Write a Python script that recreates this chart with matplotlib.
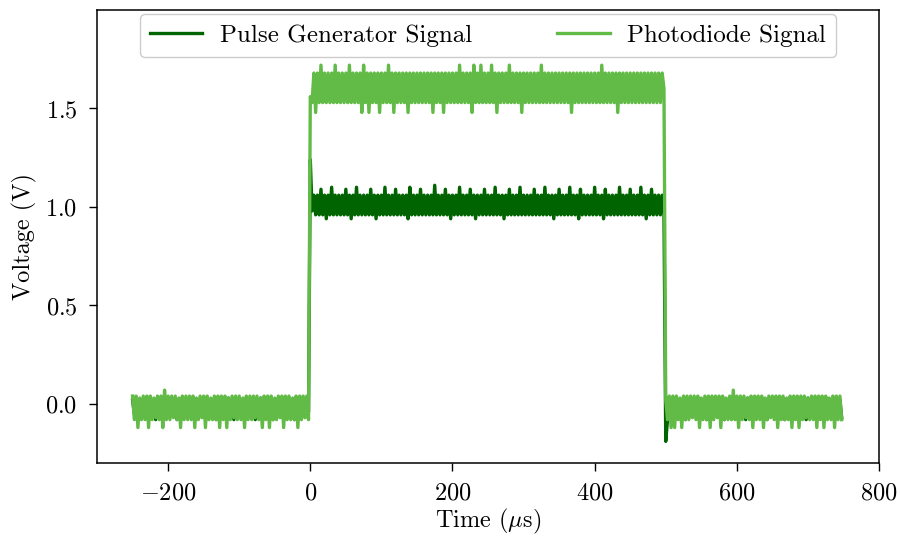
import numpy as np
import matplotlib
matplotlib.use("Agg")
import matplotlib.pyplot as plt

plt.rcParams['font.family'] = ['cmr10', 'STIXGeneral', 'DejaVu Serif']
plt.rcParams['mathtext.fontset'] = 'cm'
plt.rcParams['axes.formatter.use_mathtext'] = True
plt.rcParams['font.size'] = 17.5

# scope samples, 2.5 us apart: "a" samples on the 5 us grid, "b" samples halfway between
t_pre = np.arange(-250, 0, 5)
t_on = np.arange(0, 500, 5)
t_post = np.arange(500, 750, 5)

# pulse generator (V)
pg_pre_a = [0.02, 0.03, 0.02, 0.02, 0.03, 0.02, 0.02, 0.03, 0.02, 0.02,
            0.03, 0.02, 0.02, 0.02, 0.03, 0.02, 0.03, 0.02, 0.02, 0.02,
            0.02, 0.03, 0.02, 0.02, 0.03, 0.02, 0.02, 0.03, 0.02, 0.02,
            0.03, 0.02, 0.02, 0.02, 0.03, 0.02, 0.03, 0.02, 0.02, 0.02,
            0.02, 0.03, 0.02, 0.02, 0.03, 0.02, 0.02, 0.03, 0.02, 0.02]
pg_pre_b = [-0.05, -0.08, -0.05, -0.05, -0.06, -0.05, -0.08, -0.05, -0.05, -0.06,
            -0.05, -0.05, -0.08, -0.05, -0.06, -0.05, -0.05, -0.08, -0.05, -0.05,
            -0.06, -0.05, -0.05, -0.08, -0.05, -0.05, -0.06, -0.05, -0.08, -0.05,
            -0.05, -0.06, -0.05, -0.05, -0.08, -0.05, -0.05, -0.06, -0.05, -0.08,
            -0.05, -0.05, -0.06, -0.05, -0.05, -0.08, -0.05, -0.06, -0.05, -0.04]
pg_on_a = [1.24, 1.06, 1.06, 1.09, 1.06, 1.06, 1.10, 1.06, 1.06, 1.06,
           1.09, 1.06, 1.06, 1.10, 1.06, 1.06, 1.06, 1.09, 1.06, 1.06,
           1.06, 1.10, 1.06, 1.06, 1.09, 1.06, 1.06, 1.06, 1.10, 1.06,
           1.06, 1.09, 1.06, 1.06, 1.06, 1.11, 1.06, 1.06, 1.09, 1.06,
           1.06, 1.06, 1.10, 1.06, 1.06, 1.09, 1.06, 1.06, 1.06, 1.09,
           1.06, 1.06, 1.10, 1.06, 1.06, 1.06, 1.09, 1.06, 1.06, 1.10,
           1.06, 1.06, 1.06, 1.09, 1.06, 1.06, 1.10, 1.06, 1.06, 1.06,
           1.09, 1.06, 1.06, 1.10, 1.06, 1.06, 1.09, 1.06, 1.06, 1.06,
           1.10, 1.06, 1.06, 1.09, 1.06, 1.06, 1.06, 1.10, 1.06, 1.06,
           1.09, 1.06, 1.06, 1.10, 1.06, 1.06, 1.09, 1.06, 1.06, 1.06]
pg_on_b = [0.98, 0.96, 0.96, 0.96, 0.94, 0.96, 0.96, 0.96, 0.96, 0.96,
           0.96, 0.94, 0.96, 0.96, 0.96, 0.96, 0.96, 0.96, 0.94, 0.96,
           0.96, 0.96, 0.96, 0.96, 0.96, 0.96, 0.96, 0.94, 0.96, 0.96,
           0.96, 0.96, 0.96, 0.96, 0.96, 0.96, 0.96, 0.96, 0.96, 0.94,
           0.96, 0.96, 0.96, 0.96, 0.96, 0.96, 0.94, 0.96, 0.96, 0.96,
           0.96, 0.96, 0.96, 0.96, 0.94, 0.96, 0.96, 0.96, 0.96, 0.96,
           0.96, 0.96, 0.96, 0.96, 0.96, 0.96, 0.96, 0.96, 0.94, 0.96,
           0.96, 0.96, 0.96, 0.96, 0.96, 0.94, 0.96, 0.96, 0.96, 0.96,
           0.96, 0.96, 0.94, 0.96, 0.96, 0.96, 0.96, 0.96, 0.96, 0.96,
           0.96, 0.96, 0.96, 0.96, 0.94, 0.96, 0.96, 0.96, 0.96, 0.97]
pg_post_a = [-0.19, 0.02, 0.03, 0.02, 0.02, 0.03, 0.02, 0.02, 0.02, 0.03,
             0.02, 0.02, 0.03, 0.02, 0.02, 0.02, 0.03, 0.02, 0.02, 0.03,
             0.02, 0.02, 0.02, 0.03, 0.02, 0.02, 0.03, 0.02, 0.02, 0.02,
             0.03, 0.02, 0.02, 0.03, 0.02, 0.02, 0.02, 0.03, 0.02, 0.02,
             0.03, 0.02, 0.02, 0.02, 0.03, 0.02, 0.02, 0.03, 0.02, 0.02]
pg_post_b = [-0.08, -0.05, -0.05, -0.06, -0.05, -0.08, -0.05, -0.05, -0.06, -0.05,
             -0.05, -0.08, -0.05, -0.05, -0.06, -0.05, -0.08, -0.05, -0.05, -0.05,
             -0.06, -0.05, -0.08, -0.05, -0.05, -0.06, -0.05, -0.05, -0.08, -0.05,
             -0.05, -0.06, -0.05, -0.08, -0.05, -0.05, -0.06, -0.05, -0.05, -0.08,
             -0.05, -0.05, -0.06, -0.05, -0.08, -0.05, -0.05, -0.06, -0.05, -0.07]

# photodiode (V)
pd_pre_a = [0.04, 0.04, 0.03, 0.04, 0.04, 0.04, 0.03, 0.04, 0.04, 0.07,
            0.04, 0.04, 0.04, 0.03, 0.04, 0.04, 0.04, 0.04, 0.03, 0.04,
            0.04, 0.04, 0.03, 0.04, 0.04, 0.04, 0.04, 0.03, 0.04, 0.04,
            0.04, 0.03, 0.04, 0.04, 0.04, 0.04, 0.03, 0.04, 0.04, 0.04,
            0.03, 0.04, 0.04, 0.04, 0.04, 0.03, 0.04, 0.04, 0.04, 0.04]
pd_pre_b = [-0.08, -0.12, -0.08, -0.08, -0.12, -0.08, -0.07, -0.08, -0.12, -0.08,
            -0.08, -0.07, -0.08, -0.12, -0.08, -0.08, -0.08, -0.12, -0.08, -0.07,
            -0.12, -0.08, -0.08, -0.08, -0.12, -0.08, -0.12, -0.08, -0.07, -0.08,
            -0.08, -0.12, -0.08, -0.08, -0.07, -0.08, -0.12, -0.08, -0.12, -0.08,
            -0.08, -0.07, -0.12, -0.08, -0.08, -0.08, -0.12, -0.08, -0.07, -0.08]
pd_on_a = [1.56, 1.68, 1.68, 1.72, 1.68, 1.68, 1.68, 1.72, 1.68, 1.68,
           1.68, 1.72, 1.68, 1.68, 1.68, 1.72, 1.68, 1.68, 1.68, 1.68,
           1.68, 1.68, 1.72, 1.68, 1.68, 1.68, 1.68, 1.68, 1.68, 1.68,
           1.68, 1.68, 1.68, 1.68, 1.68, 1.68, 1.68, 1.68, 1.68, 1.68,
           1.68, 1.68, 1.72, 1.68, 1.68, 1.68, 1.72, 1.68, 1.72, 1.68,
           1.68, 1.72, 1.68, 1.68, 1.68, 1.68, 1.72, 1.68, 1.68, 1.68,
           1.68, 1.68, 1.68, 1.68, 1.68, 1.72, 1.68, 1.68, 1.68, 1.68,
           1.68, 1.68, 1.68, 1.68, 1.68, 1.68, 1.68, 1.68, 1.68, 1.68,
           1.68, 1.68, 1.72, 1.68, 1.68, 1.68, 1.68, 1.68, 1.68, 1.68,
           1.68, 1.68, 1.68, 1.68, 1.68, 1.68, 1.68, 1.68, 1.68, 1.68]
pd_on_b = [1.53, 1.48, 1.53, 1.53, 1.53, 1.53, 1.53, 1.53, 1.53, 1.53,
           1.53, 1.53, 1.53, 1.53, 1.48, 1.53, 1.48, 1.53, 1.53, 1.48,
           1.53, 1.53, 1.53, 1.48, 1.53, 1.53, 1.53, 1.48, 1.53, 1.53,
           1.53, 1.53, 1.53, 1.53, 1.48, 1.53, 1.53, 1.48, 1.53, 1.53,
           1.53, 1.53, 1.53, 1.53, 1.53, 1.48, 1.53, 1.53, 1.53, 1.53,
           1.53, 1.53, 1.48, 1.53, 1.53, 1.53, 1.53, 1.53, 1.53, 1.48,
           1.53, 1.53, 1.53, 1.53, 1.53, 1.53, 1.53, 1.53, 1.53, 1.53,
           1.53, 1.53, 1.53, 1.48, 1.53, 1.53, 1.53, 1.53, 1.53, 1.53,
           1.53, 1.53, 1.53, 1.53, 1.53, 1.53, 1.48, 1.53, 1.53, 1.53,
           1.53, 1.53, 1.53, 1.53, 1.53, 1.53, 1.53, 1.53, 1.53, 1.60]
pd_post_a = [0.02, 0.04, 0.04, 0.04, 0.03, 0.04, 0.04, 0.04, 0.04, 0.04,
             0.03, 0.04, 0.04, 0.04, 0.04, 0.04, 0.04, 0.03, 0.04, 0.07,
             0.04, 0.04, 0.04, 0.03, 0.04, 0.04, 0.04, 0.04, 0.03, 0.04,
             0.04, 0.04, 0.04, 0.04, 0.03, 0.04, 0.04, 0.04, 0.04, 0.04,
             0.03, 0.04, 0.04, 0.04, 0.04, 0.04, 0.03, 0.04, 0.04, 0.04]
pd_post_b = [-0.08, -0.12, -0.12, -0.08, -0.12, -0.08, -0.08, -0.07, -0.08, -0.12,
             -0.08, -0.08, -0.12, -0.08, -0.07, -0.12, -0.08, -0.08, -0.08, -0.08,
             -0.12, -0.08, -0.07, -0.08, -0.12, -0.08, -0.08, -0.12, -0.08, -0.07,
             -0.08, -0.12, -0.08, -0.08, -0.08, -0.12, -0.08, -0.12, -0.08, -0.07,
             -0.08, -0.08, -0.12, -0.08, -0.12, -0.08, -0.08, -0.12, -0.08, -0.08]


def interleave(t, a, b):
    tt = np.column_stack([t, t + 2.5]).ravel()
    vv = np.column_stack([a, b]).ravel()
    return tt, vv


segs_pg = [interleave(t_pre, pg_pre_a, pg_pre_b),
           interleave(t_on, pg_on_a, pg_on_b),
           interleave(t_post, pg_post_a, pg_post_b)]
segs_pd = [interleave(t_pre, pd_pre_a, pd_pre_b),
           interleave(t_on, pd_on_a, pd_on_b),
           interleave(t_post, pd_post_a, pd_post_b)]
t = np.concatenate([s[0] for s in segs_pg])
pg = np.concatenate([s[1] for s in segs_pg])
pd = np.concatenate([s[1] for s in segs_pd])

fig = plt.figure(figsize=(9.01, 5.39), dpi=100)
ax = fig.add_axes([0.1077, 0.141, 0.8679, 0.8404])

ax.plot(t, pg, color='#006400', lw=2.4, label='Pulse Generator Signal')
ax.plot(t, pd, color='#62bb47', lw=2.4, label='Photodiode Signal')

ax.set_xlim(-300, 800)
ax.set_ylim(-0.3, 2.0)
ax.set_xticks([-200, 0, 200, 400, 600, 800])
ax.set_yticks([0.0, 0.5, 1.0, 1.5])
ax.set_xlabel(r'Time ($\mu$s)', labelpad=2)
ax.set_ylabel('Voltage (V)', labelpad=6)
for s in ax.spines.values():
    s.set_linewidth(1.1)
ax.tick_params(direction='out', length=6, width=1, pad=8)

ax.legend(loc='upper center', ncol=2, columnspacing=3.4, borderaxespad=0.17,
          handlelength=2.1, handletextpad=0.7, fancybox=True, fontsize=18,
          edgecolor='#cccccc', framealpha=1.0)

fig.savefig('out.png', dpi=100)
